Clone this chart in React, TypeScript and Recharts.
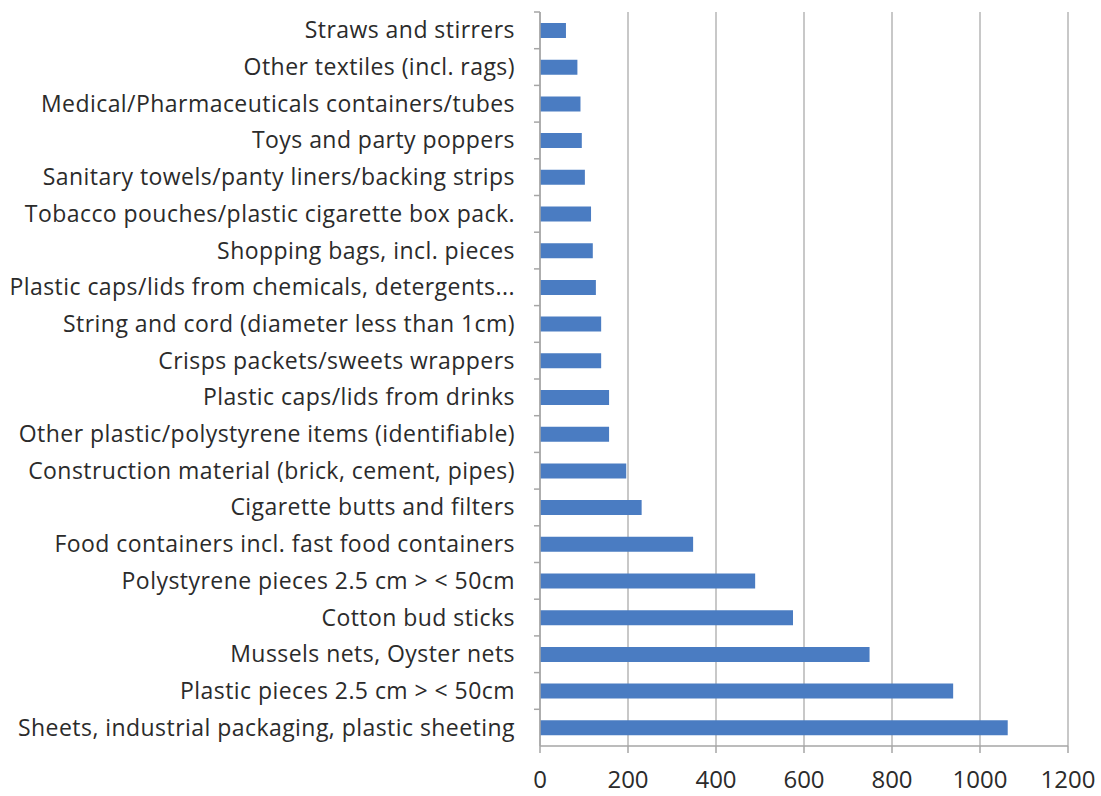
import React from "react";
import { BarChart, Bar, XAxis, YAxis, CartesianGrid } from "recharts";

const categories = [
  "Straws and stirrers",
  "Other textiles (incl. rags)",
  "Medical/Pharmaceuticals containers/tubes",
  "Toys and party poppers",
  "Sanitary towels/panty liners/backing strips",
  "Tobacco pouches/plastic cigarette box pack.",
  "Shopping bags, incl. pieces",
  "Plastic caps/lids from chemicals, detergents...",
  "String and cord (diameter less than 1cm)",
  "Crisps packets/sweets wrappers",
  "Plastic caps/lids from drinks",
  "Other plastic/polystyrene items (identifiable)",
  "Construction material (brick, cement, pipes)",
  "Cigarette butts and filters",
  "Food containers incl. fast food containers",
  "Polystyrene pieces 2.5 cm > < 50cm",
  "Cotton bud sticks",
  "Mussels nets, Oyster nets",
  "Plastic pieces 2.5 cm > < 50cm",
  "Sheets, industrial packaging, plastic sheeting",
];

const counts = [59, 85, 92, 95, 102, 116, 120, 127, 139, 139, 157, 157, 196, 231, 348, 489, 575, 749, 939, 1063];

const xTicks = [0, 200, 400, 600, 800, 1000, 1200];

const data = categories.map((name, i) => ({ name, count: counts[i] }));

const FONT = "'Open Sans', 'Noto Sans', sans-serif";
const AXIS = "#a6a6a6";
const TEXT = "#2b2b2b";

// category label plus a small tick mark on the boundary between categories
function CategoryTick(props: any) {
  const { x, y, payload } = props;
  const half = payload && payload.offset ? payload.offset : 18;
  const axisX = x + 19;
  return (
    <g>
      <line x1={axisX - 6} x2={axisX} y1={y - half} y2={y - half} stroke={AXIS} strokeWidth={1.5} />
      <text
        x={x - 6}
        y={y}
        dy={8}
        textAnchor="end"
        fontSize={23}
        letterSpacing={0.45}
        fontFamily={FONT}
        fill={TEXT}
      >
        {payload.value}
      </text>
    </g>
  );
}

export default function App() {
  return (
    <div style={{ position: "fixed", left: 0, top: 0, background: "#fff" }}>
      <BarChart
        width={1101}
        height={796}
        data={data}
        layout="vertical"
        margin={{ top: 12, right: 33, bottom: 0, left: 0 }}
        barCategoryGap="30%"
      >
        <CartesianGrid horizontal={false} stroke="#c2c2c2" strokeWidth={1.8} />
        <XAxis
          type="number"
          domain={[0, 1200]}
          ticks={xTicks}
          height={50}
          stroke={AXIS}
          strokeWidth={1.5}
          tickSize={7}
          tickMargin={18}
          tick={{ fontSize: 24, fontFamily: FONT, fill: TEXT }}
        />
        <YAxis
          type="category"
          dataKey="name"
          width={540}
          stroke={AXIS}
          strokeWidth={1.5}
          tickLine={false}
          tickSize={0}
          tickMargin={19}
          interval={0}
          tick={<CategoryTick />}
        />
        <Bar dataKey="count" fill="#4a7cc2" isAnimationActive={false} />
      </BarChart>
    </div>
  );
}
